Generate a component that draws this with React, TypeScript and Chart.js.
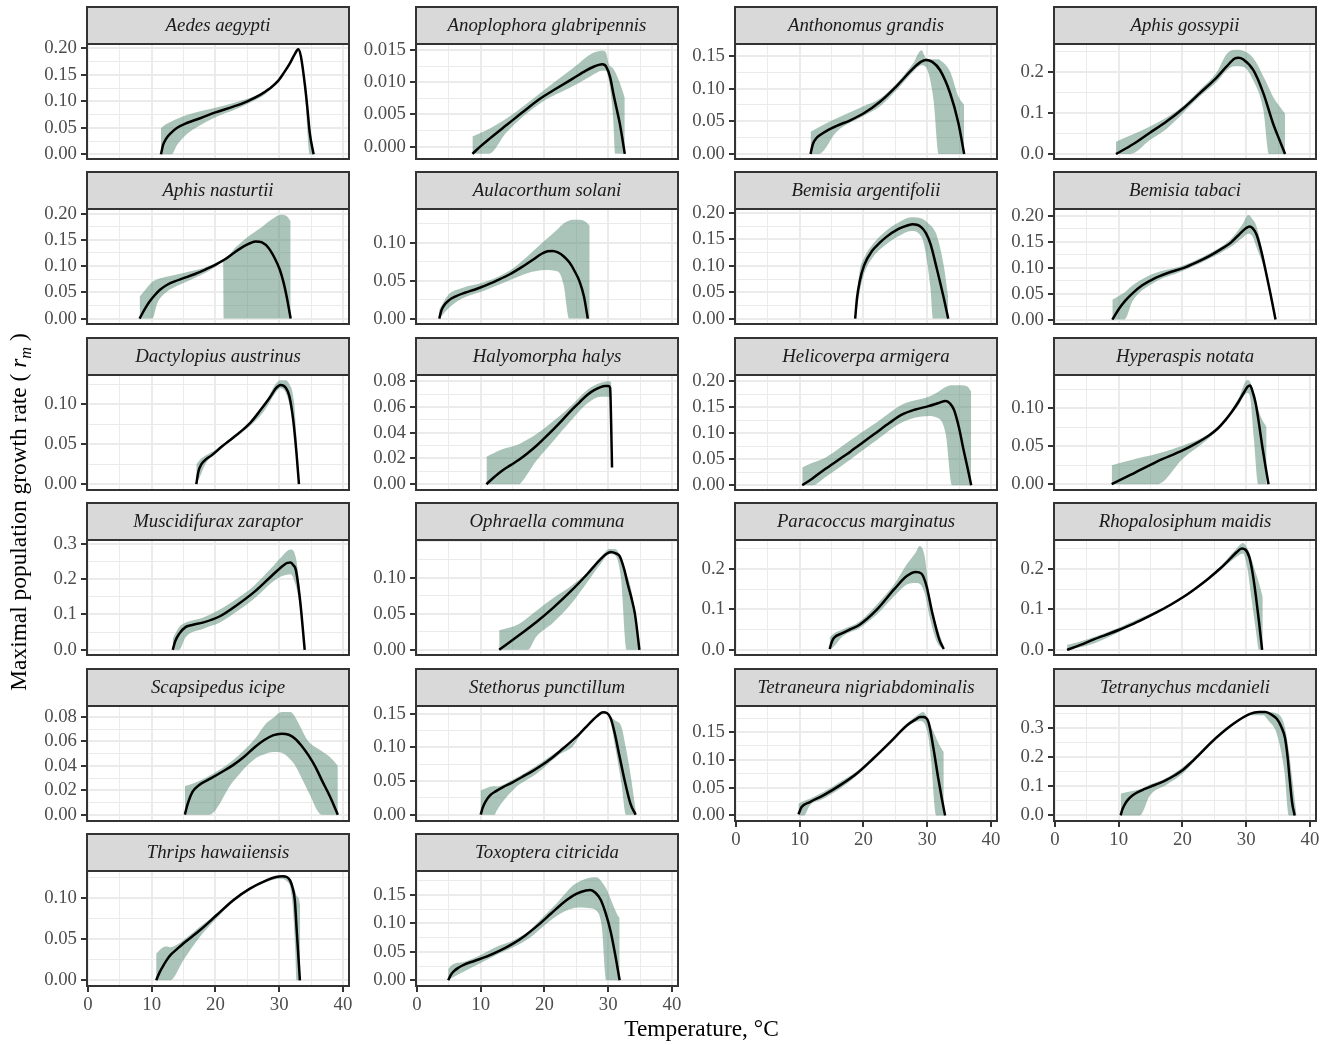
import React, { useEffect, useRef } from 'react';
import { Chart, registerables } from 'chart.js';
Chart.register(...registerables);

const FONT = "'Liberation Serif', 'Times New Roman', serif";
Chart.defaults.font.family = FONT;

// ---------- shared x axis ----------
const xTickLabels = ['0', '10', '20', '30', '40'];
const xMinorTicks = [5, 15, 25, 35];
const xLimits = [-0.15, 40.95];

// ---------- panel data ----------
const aedesT = [11.45, 11.8, 12.3, 13.0, 14.0, 15.5, 17.6, 20.0, 22.8, 25.0, 27.0, 28.5, 29.8, 30.8, 31.7, 32.4, 33.0, 33.4, 34.0, 34.4, 34.8, 35.4];
const aedesR = [0, 0.018, 0.03, 0.04, 0.05, 0.059, 0.068, 0.079, 0.09, 0.1, 0.112, 0.124, 0.138, 0.155, 0.172, 0.188, 0.198, 0.185, 0.134, 0.09, 0.04, 0];
const aedesRibT = [11.45, 12.0, 13.1, 14.0, 15.5, 17.6, 20.0, 22.8, 25.0, 28.0, 30.8, 32.4, 33.0, 33.4, 34.0, 34.8, 35.4];
const aedesHi = [0.049, 0.055, 0.062, 0.067, 0.074, 0.081, 0.088, 0.097, 0.105, 0.121, 0.157, 0.19, 0.2, 0.188, 0.138, 0.045, 0.003];
const aedesLo = [0, 0, 0, 0.018, 0.038, 0.055, 0.07, 0.083, 0.095, 0.115, 0.152, 0.185, 0.194, 0.178, 0.12, 0, 0];
const aedesYTicks = ['0.00', '0.05', '0.10', '0.15', '0.20'];
const aedesYLim = [-0.0089, 0.2081];

const anoT = [8.7, 10.0, 11.45, 14.1, 16.5, 19.3, 22.0, 24.5, 26.5, 27.7, 28.5, 29.1, 29.7, 30.3, 30.8, 31.3, 31.8, 32.2, 32.6];
const anoR = [-0.0011, 0.0001, 0.0013, 0.0034, 0.0053, 0.00745, 0.0091, 0.0106, 0.0118, 0.0124, 0.0127, 0.0128, 0.0124, 0.0108, 0.0083, 0.006, 0.0037, 0.0014, -0.0011];
const anoRibT = [8.7, 11.2, 14.1, 19.3, 24.5, 27.5, 29.0, 29.6, 30.1, 30.6, 30.8, 31.1, 31.9, 32.6];
const anoHi = [0.0016, 0.0027, 0.0044, 0.0083, 0.0122, 0.0145, 0.0149, 0.0147, 0.0128, 0.0123, 0.0121, 0.0116, 0.0097, 0.0076];
const anoLo = [-0.0011, -0.0011, 0.0023, 0.0067, 0.0094, 0.0111, 0.0118, 0.0118, 0.0103, 0.0065, 0.004, -0.0011, -0.0011, -0.0011];
const anoYTicks = ['0.000', '0.005', '0.010', '0.015'];
const anoYLim = [-0.0019, 0.01593];

const anthT = [11.7, 11.9, 12.1, 12.6, 13.2, 14.5, 15.8, 18.0, 20.0, 22.6, 25.2, 27.8, 29.0, 29.8, 30.8, 32.0, 33.6, 34.9, 35.8];
const anthR = [0, 0.009, 0.016, 0.024, 0.029, 0.037, 0.043, 0.052, 0.062, 0.08, 0.104, 0.131, 0.141, 0.144, 0.141, 0.1286, 0.093, 0.047, 0];
const anthRibT = [11.7, 13.0, 15.8, 20.0, 22.6, 25.2, 27.8, 29.1, 29.8, 31.0, 31.8, 32.0, 33.6, 34.9, 35.8];
const anthHi = [0.034, 0.041, 0.0546, 0.073, 0.085, 0.108, 0.139, 0.159, 0.147, 0.145, 0.145, 0.144, 0.126, 0.088, 0.075];
const anthLo = [0, 0, 0.034, 0.058, 0.073, 0.098, 0.126, 0.136, 0.133, 0.082, 0, 0, 0, 0, 0];
const anthYTicks = ['0.00', '0.05', '0.10', '0.15'];
const anthYLim = [-0.0077, 0.1684];

const gossT = [9.57, 12.3, 14.9, 17.5, 20.1, 22.7, 25.4, 26.9, 28.2, 28.8, 29.5, 31.1, 32.7, 34.2, 35.2, 36.1];
const gossR = [0, 0.0244, 0.052, 0.079, 0.111, 0.148, 0.187, 0.213, 0.233, 0.235, 0.231, 0.205, 0.148, 0.075, 0.035, 0];
const gossRibT = [9.57, 11.8, 14.9, 17.5, 20.1, 22.7, 25.4, 27.0, 28.2, 29.5, 31.1, 32.7, 33.6, 34.2, 36.1];
const gossHi = [0.03, 0.045, 0.067, 0.089, 0.117, 0.156, 0.2, 0.245, 0.254, 0.252, 0.234, 0.189, 0.16, 0.14, 0.098];
const gossLo = [0, 0, 0.034, 0.061, 0.1, 0.14, 0.176, 0.205, 0.214, 0.213, 0.18, 0.107, 0, 0, 0];
const gossYTicks = ['0.0', '0.1', '0.2'];
const gossYLim = [-0.0122, 0.2683];

const nastT = [8.1, 9.0, 9.7, 10.5, 11.3, 12.5, 13.6, 15.0, 16.8, 18.5, 19.9, 21.5, 23.1, 24.5, 25.5, 26.3, 27.3, 28.3, 29.3, 30.1, 30.7, 31.2, 31.8];
const nastR = [0, 0.02, 0.033, 0.045, 0.055, 0.065, 0.071, 0.077, 0.085, 0.094, 0.102, 0.113, 0.127, 0.138, 0.144, 0.147, 0.145, 0.135, 0.115, 0.093, 0.068, 0.04, 0];
const nastRibT = [8.1, 9.0, 10.1, 10.9, 12.5, 13.6, 15.0, 16.8, 18.5, 19.9, 21.2, 21.3, 23.1, 25.0, 27.0, 28.8, 30.3, 31.2, 31.8];
const nastHi = [0.042, 0.055, 0.07, 0.075, 0.08, 0.083, 0.087, 0.092, 0.098, 0.105, 0.112, 0.112, 0.135, 0.155, 0.172, 0.189, 0.198, 0.195, 0.185];
const nastLo = [0, 0, 0, 0.03, 0.052, 0.06, 0.068, 0.078, 0.088, 0.098, 0.108, 0, 0, 0, 0, 0, 0, 0, 0];
const nastYTicks = ['0.00', '0.05', '0.10', '0.15', '0.20'];
const nastYLim = [-0.0103, 0.2088];

const aulaT = [3.5, 3.8, 4.3, 5.0, 6.0, 7.5, 9.0, 10.6, 12.5, 14.5, 16.5, 18.3, 19.5, 20.5, 21.3, 22.1, 23.0, 23.9, 24.7, 25.5, 26.2, 26.8];
const aulaR = [0, 0.01, 0.018, 0.024, 0.029, 0.034, 0.038, 0.043, 0.05, 0.058, 0.068, 0.078, 0.085, 0.0885, 0.089, 0.087, 0.082, 0.074, 0.063, 0.049, 0.029, 0];
const aulaRibT = [3.5, 5.0, 7.0, 10.6, 14.7, 17.4, 20.1, 22.1, 23.0, 23.9, 24.4, 25.5, 26.5, 27.1];
const aulaHi = [0.012, 0.032, 0.04, 0.048, 0.064, 0.0825, 0.103, 0.118, 0.125, 0.129, 0.13, 0.13, 0.127, 0.122];
const aulaLo = [0, 0.014, 0.026, 0.037, 0.051, 0.06, 0.064, 0.062, 0.045, 0, 0, 0, 0, 0];
const aulaYTicks = ['0.00', '0.05', '0.10'];
const aulaYLim = [-0.0071, 0.1442];

const argT = [18.7, 19.0, 19.4, 20.1, 21.4, 22.5, 23.5, 25.5, 27.0, 27.7, 28.4, 29.1, 29.8, 30.5, 31.5, 32.6, 33.3];
const argR = [0, 0.04, 0.07, 0.101, 0.129, 0.143, 0.154, 0.17, 0.177, 0.179, 0.178, 0.173, 0.162, 0.142, 0.095, 0.039, 0];
const argRibT = [18.7, 19.4, 20.1, 21.4, 23.5, 25.5, 27.5, 29.1, 30.5, 30.9, 31.5, 32.6, 33.3];
const argHi = [0.01, 0.09, 0.115, 0.14, 0.166, 0.182, 0.192, 0.19, 0.177, 0.172, 0.158, 0.1, 0.04];
const argLo = [0, 0.05, 0.085, 0.115, 0.14, 0.156, 0.166, 0.155, 0.06, 0, 0, 0, 0];
const argYTicks = ['0.00', '0.05', '0.10', '0.15', '0.20'];
const argYLim = [-0.0102, 0.2078];

const tabT = [9.0, 10.0, 11.0, 12.2, 13.7, 15.4, 17.8, 20.1, 22.2, 24.2, 26.0, 27.6, 29.0, 30.0, 30.5, 31.0, 31.6, 32.3, 33.0, 33.8, 34.6];
const tabR = [0, 0.02, 0.036, 0.051, 0.066, 0.078, 0.09, 0.099, 0.11, 0.122, 0.135, 0.148, 0.165, 0.176, 0.179, 0.176, 0.164, 0.135, 0.097, 0.05, 0];
const tabRibT = [9.0, 10.9, 12.2, 15.4, 20.1, 24.2, 27.6, 29.5, 30.3, 31.0, 31.6, 33.0, 34.0, 34.6];
const tabHi = [0.038, 0.052, 0.066, 0.088, 0.104, 0.127, 0.155, 0.185, 0.201, 0.193, 0.18, 0.105, 0.045, 0.0];
const tabLo = [0, 0, 0.036, 0.07, 0.094, 0.117, 0.14, 0.158, 0.165, 0.16, 0.14, 0.09, 0.03, 0.0];
const tabYTicks = ['0.00', '0.05', '0.10', '0.15', '0.20'];
const tabYLim = [-0.0085, 0.2127];

const dactT = [17.0, 17.3, 17.8, 18.5, 19.4, 21.0, 22.1, 24.0, 25.5, 27.0, 28.5, 29.5, 30.2, 31.0, 31.6, 32.2, 32.7, 33.1];
const dactR = [0, 0.015, 0.025, 0.031, 0.036, 0.047, 0.054, 0.066, 0.077, 0.092, 0.108, 0.12, 0.124, 0.121, 0.11, 0.08, 0.04, 0];
const dactRibT = [17.0, 17.5, 18.5, 20.0, 22.1, 25.0, 27.5, 29.5, 30.2, 31.0, 31.6, 32.3, 32.7, 33.1];
const dactHi = [0.025, 0.03, 0.036, 0.043, 0.056, 0.075, 0.097, 0.126, 0.13, 0.13, 0.125, 0.105, 0.06, 0.0];
const dactLo = [0, 0.008, 0.026, 0.038, 0.052, 0.07, 0.09, 0.115, 0.12, 0.115, 0.1, 0.07, 0.03, 0];
const dactYTicks = ['0.00', '0.05', '0.10'];
const dactYLim = [-0.0073, 0.1365];

const halyT = [10.9, 12.0, 13.3, 14.7, 16.0, 17.4, 18.7, 20.0, 21.4, 22.8, 24.1, 25.5, 26.8, 27.8, 28.8, 29.5, 30.0, 30.3, 30.45, 30.6];
const halyR = [0, 0.005, 0.0103, 0.0148, 0.019, 0.0243, 0.0297, 0.0358, 0.0426, 0.0498, 0.0568, 0.0636, 0.0697, 0.073, 0.0754, 0.0762, 0.0762, 0.075, 0.05, 0.013];
const halyRibT = [10.9, 13.3, 16.0, 16.3, 18.7, 21.4, 24.1, 26.8, 28.8, 30.2, 30.5];
const halyHi = [0.0214, 0.027, 0.031, 0.0318, 0.0387, 0.049, 0.0606, 0.0735, 0.0787, 0.08, 0.079];
const halyLo = [0, 0, 0, 0.001, 0.018, 0.0335, 0.049, 0.063, 0.068, 0.068, 0.068];
const halyYTicks = ['0.00', '0.02', '0.04', '0.06', '0.08'];
const halyYLim = [-0.0045, 0.0848];

const heliT = [10.4, 12.0, 14.0, 16.0, 18.0, 20.0, 22.1, 24.1, 26.1, 28.0, 30.2, 31.8, 32.9, 33.6, 34.2, 35.0, 35.6, 36.3, 36.9];
const heliR = [0, 0.013, 0.031, 0.048, 0.065, 0.083, 0.102, 0.12, 0.136, 0.145, 0.152, 0.158, 0.162, 0.157, 0.145, 0.11, 0.074, 0.035, 0];
const heliRibT = [10.4, 12.0, 14.0, 18.0, 22.1, 26.1, 30.2, 31.5, 32.9, 33.9, 35.2, 36.3, 36.9];
const heliHi = [0.034, 0.043, 0.053, 0.087, 0.121, 0.155, 0.17, 0.178, 0.189, 0.192, 0.192, 0.19, 0.18];
const heliLo = [0, 0, 0.0155, 0.05, 0.087, 0.121, 0.133, 0.13, 0.099, 0, 0, 0, 0];
const heliYTicks = ['0.00', '0.05', '0.10', '0.15', '0.20'];
const heliYLim = [-0.0092, 0.2119];

const hypeT = [8.9, 12.0, 16.0, 20.1, 22.2, 24.1, 25.5, 26.8, 27.8, 28.8, 29.6, 30.2, 30.6, 31.0, 31.5, 32.0, 32.5, 33.0, 33.5];
const hypeR = [0, 0.0128, 0.0298, 0.0447, 0.054, 0.0638, 0.073, 0.085, 0.096, 0.1085, 0.12, 0.128, 0.13, 0.122, 0.106, 0.08, 0.051, 0.025, 0];
const hypeRibT = [8.9, 12.0, 16.0, 20.1, 24.1, 26.8, 28.8, 30.2, 30.6, 31.2, 31.9, 32.5, 33.2];
const hypeHi = [0.025, 0.032, 0.04, 0.051, 0.066, 0.087, 0.113, 0.137, 0.135, 0.12, 0.098, 0.085, 0.075];
const hypeLo = [0, 0, 0, 0.034, 0.06, 0.083, 0.104, 0.12, 0.115, 0.06, 0, 0, 0];
const hypeYTicks = ['0.00', '0.05', '0.10'];
const hypeYLim = [-0.0076, 0.1437];

const muscT = [13.3, 13.7, 14.3, 15.35, 16.5, 18.0, 20.7, 23.4, 26.1, 28.8, 30.8, 31.3, 31.8, 32.2, 32.6, 33.3, 34.0];
const muscR = [0, 0.025, 0.045, 0.065, 0.071, 0.077, 0.095, 0.127, 0.164, 0.209, 0.241, 0.246, 0.247, 0.24, 0.227, 0.136, 0];
const muscRibT = [13.3, 14.3, 15.35, 18.0, 20.7, 23.4, 26.1, 28.8, 30.2, 31.8, 32.6, 33.3, 34.0];
const muscHi = [0.032, 0.064, 0.077, 0.091, 0.114, 0.145, 0.182, 0.232, 0.26, 0.284, 0.262, 0.16, 0.0];
const muscLo = [0, 0, 0.036, 0.059, 0.077, 0.109, 0.145, 0.19, 0.207, 0.214, 0.182, 0.118, 0];
const muscYTicks = ['0.0', '0.1', '0.2', '0.3'];
const muscYLim = [-0.0147, 0.3108];

const ophrT = [12.9, 16.0, 18.7, 21.4, 24.1, 26.8, 28.8, 29.7, 30.4, 31.2, 31.8, 32.5, 33.1, 33.7, 34.2, 34.9];
const ophrR = [0, 0.0203, 0.0383, 0.0586, 0.081, 0.106, 0.126, 0.133, 0.136, 0.134, 0.13, 0.112, 0.09, 0.07, 0.0495, 0];
const ophrRibT = [12.9, 16.0, 17.4, 18.7, 21.4, 24.1, 26.8, 28.8, 30.2, 31.1, 32.0, 32.9, 33.5, 34.2, 34.9];
const ophrHi = [0.027, 0.036, 0.045, 0.054, 0.072, 0.088, 0.108, 0.128, 0.14, 0.14, 0.128, 0.105, 0.088, 0.05, 0.0];
const ophrLo = [0, 0, 0, 0.018, 0.038, 0.063, 0.095, 0.119, 0.133, 0.131, 0.1, 0, 0, 0, 0];
const ophrYTicks = ['0.00', '0.05', '0.10'];
const ophrYLim = [-0.0072, 0.1525];

const paraT = [14.7, 15.0, 15.35, 16.7, 18.0, 19.4, 22.1, 24.8, 26.8, 28.2, 29.1, 29.9, 30.8, 31.9, 32.6];
const paraR = [0.002, 0.018, 0.029, 0.041, 0.051, 0.062, 0.099, 0.149, 0.182, 0.192, 0.188, 0.157, 0.091, 0.025, 0.002];
const paraRibT = [14.7, 15.35, 16.7, 19.4, 22.1, 24.8, 26.8, 28.2, 28.8, 29.6, 30.4, 31.5, 32.6];
const paraHi = [0.03, 0.04, 0.05, 0.07, 0.112, 0.161, 0.211, 0.24, 0.256, 0.231, 0.13, 0.06, 0.008];
const paraLo = [0, 0.008, 0.033, 0.054, 0.087, 0.132, 0.161, 0.165, 0.163, 0.14, 0.08, 0.02, 0];
const paraYTicks = ['0.0', '0.1', '0.2'];
const paraYLim = [-0.0128, 0.2711];

const rhopT = [1.9, 4.0, 6.0, 8.0, 10.0, 12.0, 14.0, 16.0, 18.0, 20.0, 22.0, 24.0, 26.0, 27.5, 28.5, 29.3, 29.9, 30.5, 31.0, 31.5, 32.0, 32.5];
const rhopR = [0, 0.012, 0.025, 0.037, 0.049, 0.062, 0.077, 0.093, 0.11, 0.129, 0.151, 0.175, 0.202, 0.225, 0.241, 0.25, 0.247, 0.228, 0.19, 0.135, 0.07, 0];
const rhopRibT = [1.9, 5.2, 9.3, 13.3, 17.4, 21.4, 25.5, 28.2, 29.5, 30.2, 30.8, 31.5, 32.0, 32.6];
const rhopHi = [0.012, 0.027, 0.05, 0.078, 0.107, 0.146, 0.198, 0.245, 0.264, 0.25, 0.225, 0.19, 0.165, 0.13];
const rhopLo = [0, 0.011, 0.038, 0.07, 0.101, 0.14, 0.19, 0.226, 0.238, 0.2, 0.13, 0.05, 0, 0];
const rhopYTicks = ['0.0', '0.1', '0.2'];
const rhopYLim = [-0.0128, 0.2711];

const scapT = [15.2, 15.6, 16.4, 17.5, 19.2, 21.0, 22.7, 24.5, 26.2, 27.6, 29.0, 30.4, 31.5, 32.5, 33.5, 34.6, 35.7, 36.7, 38.0, 39.2];
const scapR = [0, 0.008, 0.0186, 0.0245, 0.0295, 0.035, 0.0404, 0.0475, 0.0555, 0.061, 0.065, 0.0664, 0.0655, 0.0623, 0.0565, 0.0486, 0.039, 0.0281, 0.0145, 0];
const scapRibT = [15.2, 16.4, 19.0, 22.7, 26.2, 27.9, 29.0, 30.4, 31.8, 32.5, 34.0, 34.6, 36.7, 38.0, 39.2];
const scapHi = [0.0235, 0.0254, 0.0318, 0.0445, 0.0623, 0.0746, 0.079, 0.0842, 0.0842, 0.08, 0.065, 0.06, 0.052, 0.047, 0.04];
const scapLo = [0, 0, 0, 0.0268, 0.0459, 0.05, 0.0514, 0.0508, 0.045, 0.0404, 0.025, 0.0186, 0, 0, 0];
const scapYTicks = ['0.00', '0.02', '0.04', '0.06', '0.08'];
const scapYLim = [-0.0052, 0.0891];

const stetT = [10.0, 10.3, 10.8, 11.5, 12.4, 13.5, 15.0, 16.5, 18.0, 19.5, 21.0, 22.5, 24.0, 25.5, 27.0, 28.2, 29.2, 29.8, 30.4, 31.0, 31.75, 32.6, 33.5, 34.3];
const stetR = [0, 0.01, 0.02, 0.029, 0.035, 0.041, 0.048, 0.056, 0.064, 0.073, 0.083, 0.095, 0.107, 0.12, 0.135, 0.146, 0.152, 0.151, 0.143, 0.122, 0.088, 0.05, 0.016, 0];
const stetRibT = [10.0, 11.05, 12.2, 12.45, 15.3, 18.8, 22.3, 24.5, 25.8, 27.9, 29.3, 30.35, 31.1, 32.1, 32.8, 33.5, 34.4];
const stetHi = [0.036, 0.04, 0.0425, 0.042, 0.0535, 0.073, 0.0955, 0.108, 0.124, 0.144, 0.154, 0.145, 0.14, 0.13, 0.098, 0.06, 0.0];
const stetLo = [0, 0, 0, 0.005, 0.0386, 0.061, 0.089, 0.102, 0.121, 0.141, 0.151, 0.138, 0.1, 0.045, 0, 0, 0];
const stetYTicks = ['0.00', '0.05', '0.10', '0.15'];
const stetYLim = [-0.0094, 0.1614];

const tetrT = [9.8, 10.3, 11.6, 13.7, 16.3, 18.9, 21.5, 24.2, 26.8, 28.2, 28.9, 29.4, 30.2, 30.95, 31.7, 32.3, 32.8];
const tetrR = [0.002, 0.015, 0.024, 0.036, 0.054, 0.075, 0.102, 0.132, 0.162, 0.173, 0.177, 0.177, 0.168, 0.123, 0.069, 0.03, 0.0];
const tetrRibT = [9.8, 10.65, 11.6, 13.7, 16.3, 18.9, 21.5, 24.2, 26.8, 28.9, 29.4, 30.2, 30.6, 31.4, 32.0, 32.6];
const tetrHi = [0.021, 0.026, 0.03, 0.042, 0.06, 0.079, 0.105, 0.135, 0.165, 0.184, 0.186, 0.17, 0.16, 0.14, 0.125, 0.114];
const tetrLo = [0, 0, 0.018, 0.03, 0.048, 0.071, 0.099, 0.129, 0.159, 0.17, 0.168, 0.14, 0.1, 0, 0, 0];
const tetrYTicks = ['0.00', '0.05', '0.10', '0.15'];
const tetrYLim = [-0.0101, 0.197];

const mcdT = [10.3, 10.6, 11.0, 11.5, 12.2, 13.0, 14.0, 15.0, 16.3, 17.5, 18.8, 20.1, 21.4, 22.7, 24.0, 25.4, 28.0, 30.6, 32.0, 33.0, 34.0, 34.8, 35.5, 36.1, 36.5, 36.8, 37.2, 37.6];
const mcdR = [0, 0.022, 0.04, 0.055, 0.069, 0.08, 0.09, 0.099, 0.11, 0.122, 0.138, 0.157, 0.183, 0.211, 0.24, 0.269, 0.315, 0.349, 0.355, 0.355, 0.346, 0.332, 0.305, 0.265, 0.2, 0.13, 0.045, 0];
const mcdRibT = [10.3, 11.75, 13.3, 14.9, 17.5, 20.1, 22.7, 25.4, 28.0, 30.6, 32.7, 33.5, 34.8, 36.0, 36.7, 37.2, 37.9];
const mcdHi = [0.0745, 0.082, 0.09, 0.106, 0.129, 0.166, 0.218, 0.275, 0.32, 0.35, 0.357, 0.355, 0.35, 0.31, 0.22, 0.13, 0.0];
const mcdLo = [0, 0, 0, 0.0687, 0.1053, 0.145, 0.205, 0.262, 0.31, 0.344, 0.344, 0.325, 0.28, 0.15, 0, 0, 0];
const mcdYTicks = ['0.0', '0.1', '0.2', '0.3'];
const mcdYLim = [-0.0192, 0.376];

const thriT = [10.7, 11.2, 11.8, 12.4, 13.0, 14.0, 15.0, 17.6, 20.2, 22.8, 25.4, 28.0, 29.5, 30.5, 31.2, 31.7, 32.1, 32.45, 32.75, 33.0, 33.25];
const thriR = [0, 0.009, 0.0175, 0.025, 0.031, 0.038, 0.0448, 0.0609, 0.079, 0.097, 0.111, 0.121, 0.125, 0.126, 0.125, 0.121, 0.112, 0.097, 0.06, 0.03, 0];
const thriRibT = [10.7, 11.8, 12.5, 12.9, 15.0, 17.6, 20.2, 22.8, 25.4, 28.0, 30.1, 31.2, 32.0, 32.5, 32.7, 33.1, 33.3];
const thriHi = [0.0323, 0.04, 0.041, 0.04, 0.0488, 0.065, 0.081, 0.099, 0.112, 0.122, 0.127, 0.126, 0.12, 0.108, 0.103, 0.098, 0.09];
const thriLo = [0, 0, 0, 0, 0.0246, 0.053, 0.075, 0.095, 0.109, 0.119, 0.123, 0.12, 0.1, 0.04, 0, 0, 0];
const thriYTicks = ['0.00', '0.05', '0.10'];
const thriYLim = [-0.0069, 0.1323];

const toxoT = [4.9, 5.3, 5.8, 6.5, 7.5, 9.0, 11.0, 13.0, 15.0, 17.0, 19.0, 21.0, 23.0, 25.0, 26.5, 27.2, 28.0, 28.8, 29.6, 30.4, 31.1, 31.8];
const toxoR = [0, 0.009, 0.016, 0.022, 0.028, 0.034, 0.042, 0.052, 0.064, 0.079, 0.097, 0.117, 0.137, 0.152, 0.158, 0.159, 0.154, 0.142, 0.118, 0.085, 0.045, 0];
const toxoRibT = [4.9, 5.6, 7.3, 9.9, 12.5, 15.1, 17.7, 19.3, 21.9, 24.5, 25.9, 26.9, 28.2, 29.0, 29.7, 30.5, 31.5, 31.8];
const toxoHi = [0.02, 0.028, 0.032, 0.044, 0.059, 0.07, 0.088, 0.106, 0.135, 0.167, 0.176, 0.18, 0.181, 0.173, 0.161, 0.14, 0.114, 0.11];
const toxoLo = [0, 0.005, 0.0151, 0.03, 0.045, 0.058, 0.075, 0.09, 0.113, 0.1266, 0.128, 0.127, 0.122, 0.094, 0, 0, 0, 0];
const toxoYTicks = ['0.00', '0.05', '0.10', '0.15'];
const toxoYLim = [-0.01, 0.1922];

type PanelDef = { name: string; t: number[]; r: number[]; rt: number[]; lo: number[]; hi: number[]; yt: string[]; yl: number[] };

const PANELS: PanelDef[] = [
  { name: 'Aedes aegypti', t: aedesT, r: aedesR, rt: aedesRibT, lo: aedesLo, hi: aedesHi, yt: aedesYTicks, yl: aedesYLim },
  { name: 'Anoplophora glabripennis', t: anoT, r: anoR, rt: anoRibT, lo: anoLo, hi: anoHi, yt: anoYTicks, yl: anoYLim },
  { name: 'Anthonomus grandis', t: anthT, r: anthR, rt: anthRibT, lo: anthLo, hi: anthHi, yt: anthYTicks, yl: anthYLim },
  { name: 'Aphis gossypii', t: gossT, r: gossR, rt: gossRibT, lo: gossLo, hi: gossHi, yt: gossYTicks, yl: gossYLim },
  { name: 'Aphis nasturtii', t: nastT, r: nastR, rt: nastRibT, lo: nastLo, hi: nastHi, yt: nastYTicks, yl: nastYLim },
  { name: 'Aulacorthum solani', t: aulaT, r: aulaR, rt: aulaRibT, lo: aulaLo, hi: aulaHi, yt: aulaYTicks, yl: aulaYLim },
  { name: 'Bemisia argentifolii', t: argT, r: argR, rt: argRibT, lo: argLo, hi: argHi, yt: argYTicks, yl: argYLim },
  { name: 'Bemisia tabaci', t: tabT, r: tabR, rt: tabRibT, lo: tabLo, hi: tabHi, yt: tabYTicks, yl: tabYLim },
  { name: 'Dactylopius austrinus', t: dactT, r: dactR, rt: dactRibT, lo: dactLo, hi: dactHi, yt: dactYTicks, yl: dactYLim },
  { name: 'Halyomorpha halys', t: halyT, r: halyR, rt: halyRibT, lo: halyLo, hi: halyHi, yt: halyYTicks, yl: halyYLim },
  { name: 'Helicoverpa armigera', t: heliT, r: heliR, rt: heliRibT, lo: heliLo, hi: heliHi, yt: heliYTicks, yl: heliYLim },
  { name: 'Hyperaspis notata', t: hypeT, r: hypeR, rt: hypeRibT, lo: hypeLo, hi: hypeHi, yt: hypeYTicks, yl: hypeYLim },
  { name: 'Muscidifurax zaraptor', t: muscT, r: muscR, rt: muscRibT, lo: muscLo, hi: muscHi, yt: muscYTicks, yl: muscYLim },
  { name: 'Ophraella communa', t: ophrT, r: ophrR, rt: ophrRibT, lo: ophrLo, hi: ophrHi, yt: ophrYTicks, yl: ophrYLim },
  { name: 'Paracoccus marginatus', t: paraT, r: paraR, rt: paraRibT, lo: paraLo, hi: paraHi, yt: paraYTicks, yl: paraYLim },
  { name: 'Rhopalosiphum maidis', t: rhopT, r: rhopR, rt: rhopRibT, lo: rhopLo, hi: rhopHi, yt: rhopYTicks, yl: rhopYLim },
  { name: 'Scapsipedus icipe', t: scapT, r: scapR, rt: scapRibT, lo: scapLo, hi: scapHi, yt: scapYTicks, yl: scapYLim },
  { name: 'Stethorus punctillum', t: stetT, r: stetR, rt: stetRibT, lo: stetLo, hi: stetHi, yt: stetYTicks, yl: stetYLim },
  { name: 'Tetraneura nigriabdominalis', t: tetrT, r: tetrR, rt: tetrRibT, lo: tetrLo, hi: tetrHi, yt: tetrYTicks, yl: tetrYLim },
  { name: 'Tetranychus mcdanieli', t: mcdT, r: mcdR, rt: mcdRibT, lo: mcdLo, hi: mcdHi, yt: mcdYTicks, yl: mcdYLim },
  { name: 'Thrips hawaiiensis', t: thriT, r: thriR, rt: thriRibT, lo: thriLo, hi: thriHi, yt: thriYTicks, yl: thriYLim },
  { name: 'Toxoptera citricida', t: toxoT, r: toxoR, rt: toxoRibT, lo: toxoLo, hi: toxoHi, yt: toxoYTicks, yl: toxoYLim },
];

// ---------- layout ----------
const COL_LEFT = [87, 416, 735, 1054];
const ROW_TOP = [7, 172, 338, 503, 669, 834];
const PLOT_W = 262;
const PLOT_H = 115;
const STRIP_H = 37;
const Y_AXIS_W = 66;
const RIGHT_PAD = 14;
const X_AXIS_H = 32;
const TOP_OFF = 2;

const RIBBON = 'rgba(78,132,108,0.48)';
const GRID = '#EBEBEB';
const DARK = '#333333';
const TICK_TXT = '#4D4D4D';
const FONT_SIZE = 18.8;
const TITLE_SIZE = 23.4;

const panelPlugin = {
  id: 'panelDeco',
  afterDatasetsDraw(chart: any) {
    const { ctx, chartArea: a } = chart;
    ctx.save();
    ctx.strokeStyle = DARK;
    ctx.lineWidth = 2;
    ctx.strokeRect(a.left, a.top, a.right - a.left, a.bottom - a.top);
    ctx.restore();
  },
  afterDraw(chart: any, _args: any, opts: any) {
    const { ctx, chartArea: a } = chart;
    ctx.save();
    const top = a.top - STRIP_H;
    ctx.fillStyle = '#D9D9D9';
    ctx.fillRect(a.left, top, a.right - a.left, STRIP_H);
    ctx.strokeStyle = DARK;
    ctx.lineWidth = 2;
    ctx.strokeRect(a.left, top, a.right - a.left, STRIP_H);
    ctx.fillStyle = '#1A1A1A';
    ctx.font = `italic ${FONT_SIZE}px ${FONT}`;
    ctx.textAlign = 'center';
    ctx.textBaseline = 'middle';
    ctx.fillText(opts.title, (a.left + a.right) / 2, top + STRIP_H / 2 + 1);
    ctx.restore();
  },
};

function Panel({ p, col, row }: { p: PanelDef; col: number; row: number }) {
  const ref = useRef<HTMLCanvasElement>(null);
  const bottom = row === 5 || (row === 4 && col >= 2);
  useEffect(() => {
    if (!ref.current) return;
    const majors = p.yt.map((s) => parseFloat(s));
    const step = majors[1] - majors[0];
    const eps = step * 1e-4;
    const isMajorY = (v: number) => majors.some((m) => Math.abs(m - v) < eps);
    const yTickVals: number[] = [];
    for (let k = -4; k <= majors.length * 2 + 4; k++) {
      const v = majors[0] + (k * step) / 2;
      if (v >= p.yl[0] && v <= p.yl[1]) yTickVals.push(v);
    }
    const xMajors = xTickLabels.map((s) => parseFloat(s));
    const isMajorX = (v: number) => xMajors.some((m) => Math.abs(m - v) < 1e-6);
    const xTickVals = [...xMajors, ...xMinorTicks].sort((a, b) => a - b);

    const chart = new Chart(ref.current, {
      type: 'line',
      data: {
        datasets: [
          {
            data: p.t.map((x, i) => ({ x, y: p.r[i] })),
            borderColor: '#000000',
            borderWidth: 2.5,
            pointRadius: 0,
            fill: false,
            cubicInterpolationMode: 'monotone',
          },
          {
            data: p.rt.map((x, i) => ({ x, y: p.lo[i] })),
            borderColor: 'rgba(0,0,0,0)',
            borderWidth: 0,
            pointRadius: 0,
            fill: false,
            cubicInterpolationMode: 'monotone',
          },
          {
            data: p.rt.map((x, i) => ({ x, y: p.hi[i] })),
            borderColor: 'rgba(0,0,0,0)',
            backgroundColor: RIBBON,
            borderWidth: 0,
            pointRadius: 0,
            fill: '-1',
            cubicInterpolationMode: 'monotone',
          },
        ],
      } as any,
      options: {
        animation: false,
        responsive: false,
        maintainAspectRatio: false,
        events: [],
        layout: { padding: { top: STRIP_H + TOP_OFF, right: RIGHT_PAD, left: 0, bottom: 0 } },
        plugins: {
          legend: { display: false },
          tooltip: { enabled: false },
          title: { display: false },
          panelDeco: { title: p.name },
        } as any,
        scales: {
          x: {
            type: 'linear',
            min: xLimits[0],
            max: xLimits[1],
            afterBuildTicks: (s: any) => {
              s.ticks = xTickVals.map((v) => ({ value: v }));
            },
            afterFit: (s: any) => {
              s.height = X_AXIS_H;
              s.paddingLeft = 0;
              s.paddingRight = 0;
            },
            border: { display: false },
            grid: {
              color: GRID,
              lineWidth: (c: any) => (c.tick && isMajorX(c.tick.value) ? 2 : 1),
              drawTicks: bottom,
              tickLength: 6,
              tickWidth: 2,
              tickColor: (c: any) => (c.tick && isMajorX(c.tick.value) ? DARK : 'rgba(0,0,0,0)'),
            },
            ticks: {
              display: bottom,
              autoSkip: false,
              maxRotation: 0,
              minRotation: 0,
              padding: 2,
              color: TICK_TXT,
              font: { family: FONT, size: FONT_SIZE },
              callback: (v: any) => {
                const i = xMajors.findIndex((m) => Math.abs(m - v) < 1e-6);
                return i >= 0 ? xTickLabels[i] : '';
              },
            },
          },
          y: {
            type: 'linear',
            min: p.yl[0],
            max: p.yl[1],
            afterBuildTicks: (s: any) => {
              s.ticks = yTickVals.map((v) => ({ value: v }));
            },
            afterFit: (s: any) => {
              s.width = Y_AXIS_W;
              s.paddingTop = 0;
              s.paddingBottom = 0;
            },
            border: { display: false },
            grid: {
              color: GRID,
              lineWidth: (c: any) => (c.tick && isMajorY(c.tick.value) ? 2 : 1),
              drawTicks: true,
              tickLength: 6,
              tickWidth: 2,
              tickColor: (c: any) => (c.tick && isMajorY(c.tick.value) ? DARK : 'rgba(0,0,0,0)'),
            },
            ticks: {
              autoSkip: false,
              padding: 4,
              color: TICK_TXT,
              font: { family: FONT, size: FONT_SIZE },
              callback: (v: any) => {
                const i = majors.findIndex((m) => Math.abs(m - v) < eps);
                return i >= 0 ? p.yt[i] : '';
              },
            },
          },
        },
      } as any,
      plugins: [panelPlugin as any],
    });
    return () => chart.destroy();
  }, [p, bottom]);

  const w = Y_AXIS_W + PLOT_W + RIGHT_PAD;
  const h = TOP_OFF + STRIP_H + PLOT_H + X_AXIS_H;
  return (
    <canvas
      ref={ref}
      width={w}
      height={h}
      style={{ position: 'absolute', left: COL_LEFT[col] - Y_AXIS_W, top: ROW_TOP[row] - TOP_OFF, width: w, height: h }}
    />
  );
}

export default function App() {
  return (
    <div style={{ position: 'absolute', left: 0, top: 0, width: 1333, height: 1045, background: '#ffffff', overflow: 'hidden' }}>
      {PANELS.map((p, i) => (
        <Panel key={p.name} p={p} col={i % 4} row={Math.floor(i / 4)} />
      ))}
      <div
        style={{
          position: 'absolute',
          left: 401.5,
          top: 1014,
          width: 600,
          height: 28,
          lineHeight: '28px',
          textAlign: 'center',
          fontFamily: FONT,
          fontSize: TITLE_SIZE,
          color: '#000',
        }}
      >
        Temperature, °C
      </div>
      <div
        style={{
          position: 'absolute',
          left: 18 - 300,
          top: 512 - 14,
          width: 600,
          height: 28,
          lineHeight: '28px',
          textAlign: 'center',
          fontFamily: FONT,
          fontSize: TITLE_SIZE,
          color: '#000',
          transform: 'rotate(-90deg)',
          whiteSpace: 'pre',
        }}
      >
        {'Maximal population growth rate ( '}
        <i>r</i>
        <sub style={{ fontSize: '0.7em', verticalAlign: '-0.3em', lineHeight: 0 }}>
          <i>m</i>
        </sub>
        {' )'}
      </div>
    </div>
  );
}
